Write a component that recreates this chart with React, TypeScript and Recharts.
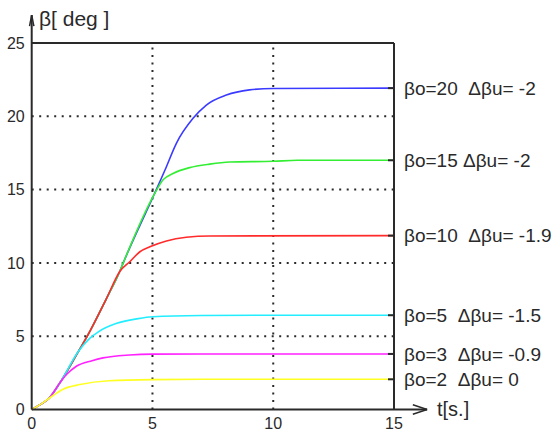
import React from "react"
import { LineChart, Line, XAxis, YAxis, ReferenceLine } from "recharts"

// shared start of every response (t [s], beta [deg])
const ramp: [number, number][] = [
  [0, 0], [0.35, 0.33], [0.71, 0.75], [1.18, 1.85], [1.93, 3.95],
  [2.3, 5.0], [3.09, 7.55], [3.64, 9.4], [3.79, 10.0], [5.05, 14.6],
]

const beta20: [number, number][] = [
  ...ramp,
  [5.51, 16.3], [5.99, 18.16], [6.68, 19.86], [7.23, 20.77], [8.06, 21.45],
  [9.02, 21.8], [10, 21.9], [15, 21.92],
]
const beta15: [number, number][] = [
  ...ramp,
  [5.44, 15.67], [5.85, 16.1], [6.54, 16.5], [7.37, 16.74], [8.2, 16.88],
  [10, 16.93], [11, 17.0], [15, 17.0],
]
const beta10: [number, number][] = [
  ...ramp.slice(0, 8),
  [4.06, 10.08], [4.48, 10.76], [4.89, 11.1], [5.58, 11.5], [6.4, 11.75],
  [7.37, 11.84], [15, 11.86],
]
const beta5: [number, number][] = [
  ...ramp.slice(0, 5),
  [2.4, 4.85], [2.76, 5.3], [3.52, 5.88], [4.34, 6.18], [5, 6.33],
  [7, 6.41], [10, 6.43], [15, 6.43],
]
const beta3: [number, number][] = [
  ...ramp.slice(0, 4),
  [1.45, 2.4], [1.85, 2.95], [2.5, 3.33], [2.95, 3.52], [4.05, 3.72],
  [5, 3.78], [7, 3.79], [15, 3.79],
]
const beta2: [number, number][] = [
  ...ramp.slice(0, 3),
  [1.0, 1.08], [1.3, 1.38], [2.0, 1.7], [3.2, 1.96], [5, 2.04],
  [7, 2.06], [15, 2.06],
]

const series = [beta20, beta15, beta10, beta5, beta3, beta2]
const colors = ["#3b3bff", "#33ee33", "#ff2a2a", "#22eeff", "#ff22ff", "#ffff22"]
const labels = [
  "βo=20  Δβu= -2",
  "βo=15 Δβu= -2",
  "βo=10  Δβu= -1.9",
  "βo=5  Δβu= -1.5",
  "βo=3  Δβu= -0.9",
  "βo=2  Δβu= 0",
]

const xTicks = [0, 5, 10, 15]
const yTicks = [0, 5, 10, 15, 20, 25]
const xGrid = [5, 10]
const yGrid = [5, 10, 15, 20]

const finals = series.map((s) => s[s.length - 1][1])
const ink = "#2a2a2a"

const endLabel = (i: number) => (props: any) => {
  const { x, y, index } = props
  if (index !== series[i].length - 1) return null
  return (
    <text
      key={"lbl" + i}
      x={x + 10}
      y={y}
      dy="0.36em"
      textAnchor="start"
      fontSize={19}
      fill={ink}
      style={{ whiteSpace: "pre" }}
    >
      {labels[i]}
    </text>
  )
}

export default function App() {
  return (
    <div
      style={{
        position: "absolute",
        left: 0,
        top: 0,
        width: 559,
        height: 430,
        background: "#fff",
        fontFamily: "'Liberation Sans', Arial, sans-serif",
      }}
    >
      <LineChart
        width={559}
        height={430}
        margin={{ top: 43, right: 165, bottom: 0, left: 1.7 }}
      >
        <XAxis
          dataKey="t"
          type="number"
          domain={[0, 15]}
          ticks={xTicks}
          interval={0}
          height={20.5}
          tickSize={0}
          tickMargin={8}
          tickLine={false}
          axisLine={{ stroke: ink, strokeWidth: 2 }}
          tick={{ fill: ink, fontSize: 16 }}
        />
        <YAxis
          type="number"
          domain={[0, 25]}
          ticks={yTicks}
          interval={0}
          width={30}
          tickSize={0}
          tickMargin={7}
          tickLine={false}
          axisLine={{ stroke: ink, strokeWidth: 2 }}
          tick={{ fill: ink, fontSize: 16 }}
        />
        {yGrid.map((v) => (
          <ReferenceLine key={"gy" + v} y={v} stroke={ink} strokeWidth={2} strokeDasharray="2 5.5" />
        ))}
        {xGrid.map((v) => (
          <ReferenceLine key={"gx" + v} x={v} stroke={ink} strokeWidth={2} strokeDasharray="2 5.5" />
        ))}
        {series.map((s, i) => (
          <Line
            key={i}
            data={s.map(([t, v]) => ({ t, v }))}
            dataKey="v"
            type="monotone"
            stroke={colors[i]}
            strokeWidth={1.6}
            dot={false}
            activeDot={false}
            label={endLabel(i)}
            isAnimationActive={false}
          />
        ))}
        <ReferenceLine y={25} stroke={ink} strokeWidth={2} />
        <ReferenceLine x={15} stroke={ink} strokeWidth={2} />
        {finals.map((v, i) => (
          <ReferenceLine
            key={"end" + i}
            segment={[{ x: 14.75, y: v }, { x: 15, y: v }]}
            stroke={ink}
            strokeWidth={2}
          />
        ))}
        {/* axis arrows */}
        <ReferenceLine segment={[{ x: 15, y: 0 }, { x: 16.37, y: 0 }]} stroke={ink} strokeWidth={2} ifOverflow="visible" />
        <ReferenceLine segment={[{ x: 15.78, y: 0.32 }, { x: 16.37, y: 0 }]} stroke={ink} strokeWidth={1.5} ifOverflow="visible" />
        <ReferenceLine segment={[{ x: 15.78, y: -0.32 }, { x: 16.37, y: 0 }]} stroke={ink} strokeWidth={1.5} ifOverflow="visible" />
        <ReferenceLine segment={[{ x: 0, y: 25 }, { x: 0, y: 26.9 }]} stroke={ink} strokeWidth={2} ifOverflow="visible" />
        <ReferenceLine segment={[{ x: -0.09, y: 26.15 }, { x: 0, y: 26.9 }]} stroke={ink} strokeWidth={1.5} ifOverflow="visible" />
        <ReferenceLine segment={[{ x: 0.09, y: 26.15 }, { x: 0, y: 26.9 }]} stroke={ink} strokeWidth={1.5} ifOverflow="visible" />
      </LineChart>
      <div style={{ position: "absolute", left: 39, top: 7, fontSize: 21, color: ink, whiteSpace: "pre" }}>
        β[ deg ]
      </div>
      <div style={{ position: "absolute", left: 437, top: 398, fontSize: 20, color: ink }}>
        t[s.]
      </div>
    </div>
  )
}
